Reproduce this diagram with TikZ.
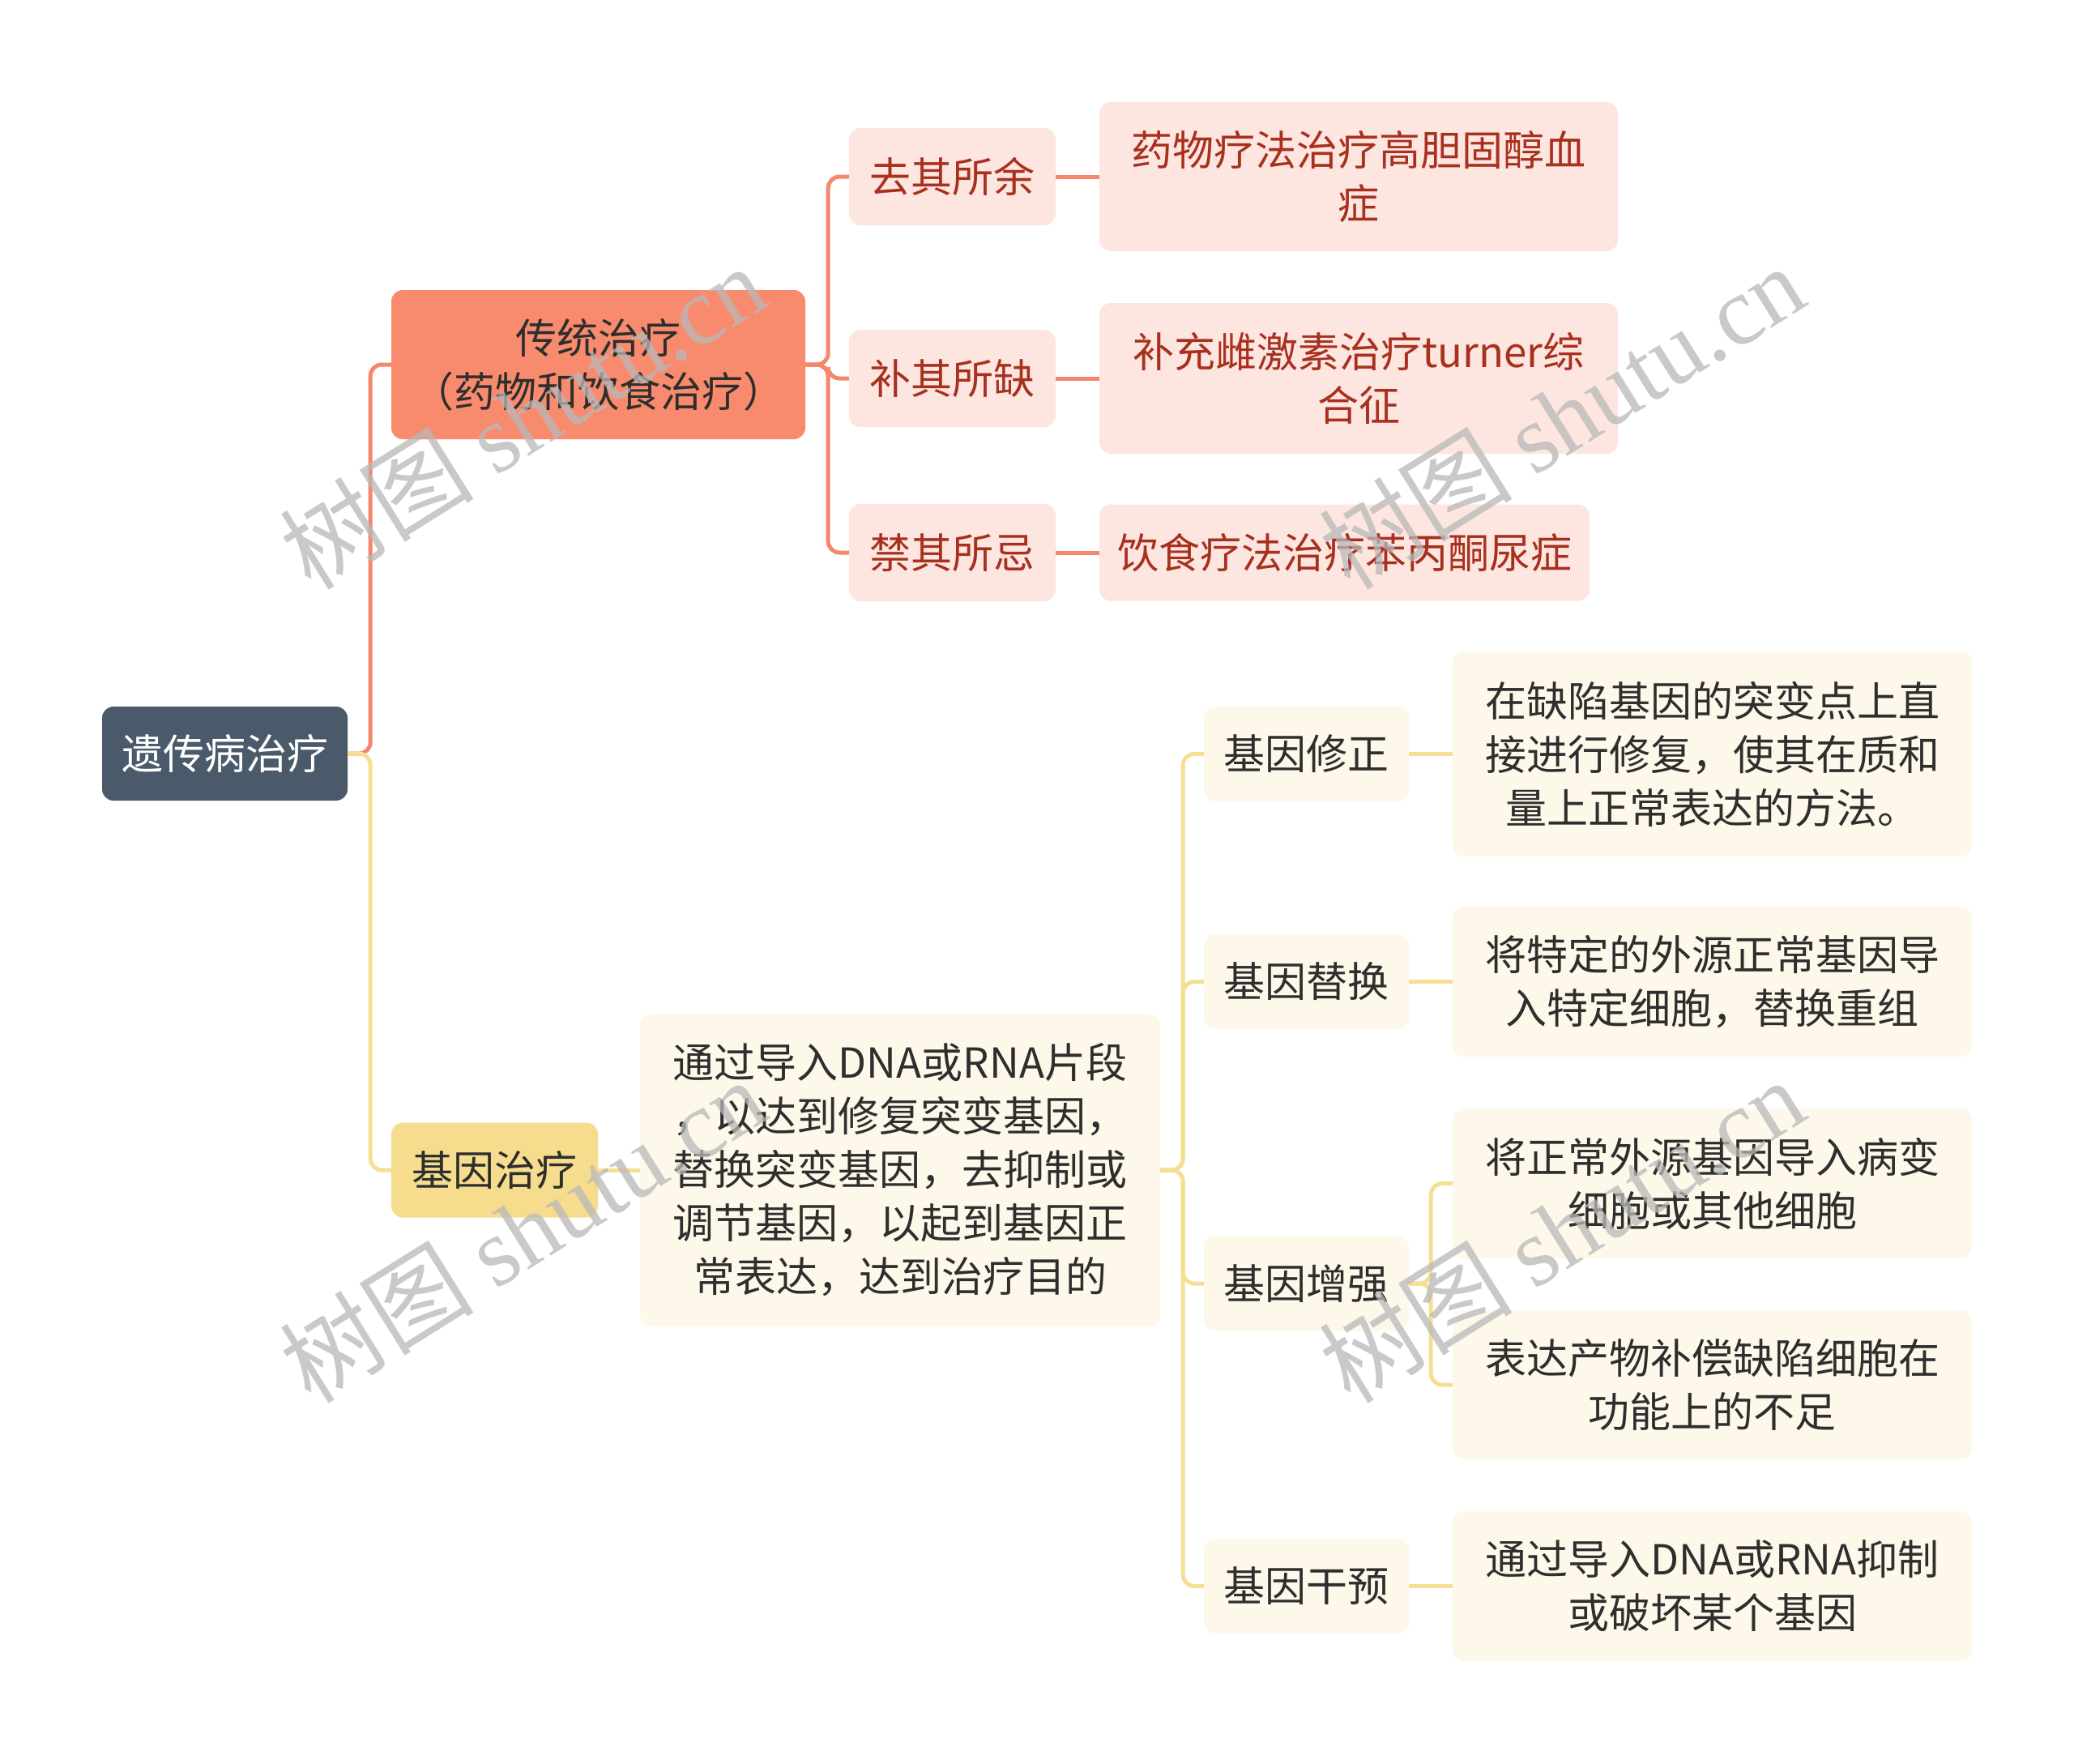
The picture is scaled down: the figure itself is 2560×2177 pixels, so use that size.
\documentclass[tikz,border=0pt]{standalone}
\usepackage{fontspec}
\setmainfont{Noto Sans CJK SC}
\newfontfamily\wmfont{Liberation Serif}
\definecolor{rootfill}{HTML}{4A5A6A}
\definecolor{salmonfill}{HTML}{F88B6D}
\definecolor{salmonline}{HTML}{F4876C}
\definecolor{pinkfill}{HTML}{FDE5E0}
\definecolor{darkred}{HTML}{A8301E}
\definecolor{yellowfill}{HTML}{F6DD8E}
\definecolor{yellowline}{HTML}{F5DF92}
\definecolor{creamfill}{HTML}{FDF8E9}
\definecolor{txt}{HTML}{2E2E2E}
\definecolor{wmgray}{HTML}{B8B8B8}
\begin{document}
\begin{tikzpicture}[x=1pt,y=-1pt,
  box/.style={rectangle, rounded corners=14pt, inner sep=0pt, align=center,
    font=\fontsize{51}{66}\selectfont},
  rootbox/.style={box, fill=rootfill, text=white},
  mainsalmon/.style={box, fill=salmonfill, text=txt},
  pinkbox/.style={box, fill=pinkfill, text=darkred},
  mainyellow/.style={box, fill=yellowfill, text=txt},
  creambox/.style={box, fill=creamfill, text=txt},
  sline/.style={draw=salmonline, line width=5pt, rounded corners=14pt},
  yline/.style={draw=yellowline, line width=5pt, rounded corners=14pt},
  wm/.style={text=wmgray, opacity=0.75, font=\fontsize{120}{128}\selectfont, inner sep=0pt}
]
\useasboundingbox (0,0) rectangle (2560,2177);
\fill[white] (0,0) rectangle (2560,2177);

% nodes
\node[rootbox, minimum width=303pt, minimum height=116pt] (root) at (277.5,930) {遗传病治疗};
\node[mainsalmon, minimum width=511pt, minimum height=184pt] (t1) at (738.5,450) {传统治疗\\（药物和饮食治疗）};
\node[pinkbox, minimum width=255pt, minimum height=120pt] (s1) at (1175.5,218) {去其所余};
\node[pinkbox, minimum width=255pt, minimum height=120pt] (s2) at (1175.5,467) {补其所缺};
\node[pinkbox, minimum width=255pt, minimum height=120pt] (s3) at (1175.5,682) {禁其所忌};
\node[pinkbox, minimum width=640pt, minimum height=184pt] (p1) at (1677,218) {药物疗法治疗高胆固醇血\\症};
\node[pinkbox, minimum width=640pt, minimum height=186pt] (p2) at (1677,467) {补充雌激素治疗turner综\\合征};
\node[pinkbox, minimum width=605pt, minimum height=119pt] (p3) at (1659.5,682) {饮食疗法治疗苯丙酮尿症};

\node[mainyellow, minimum width=255pt, minimum height=117pt] (gene) at (610.5,1444) {基因治疗};
\node[creambox, minimum width=642pt, minimum height=386pt] (para) at (1111,1444) {通过导入DNA或RNA片段\\，以达到修复突变基因，\\替换突变基因，去抑制或\\调节基因，以起到基因正\\常表达，达到治疗目的};
\node[creambox, minimum width=253pt, minimum height=117pt] (g1) at (1612.5,930.5) {基因修正};
\node[creambox, minimum width=253pt, minimum height=117pt] (g2) at (1612.5,1211.5) {基因替换};
\node[creambox, minimum width=253pt, minimum height=117pt] (g3) at (1612.5,1584) {基因增强};
\node[creambox, minimum width=253pt, minimum height=117pt] (g4) at (1612.5,1957.5) {基因干预};
\node[creambox, minimum width=641pt, minimum height=253pt] (q1) at (2113.5,930.5) {在缺陷基因的突变点上直\\接进行修复，使其在质和\\量上正常表达的方法。};
\node[creambox, minimum width=641pt, minimum height=185pt] (q2) at (2113.5,1211.5) {将特定的外源正常基因导\\入特定细胞，替换重组};
\node[creambox, minimum width=641pt, minimum height=185pt] (q3) at (2113.5,1460.5) {将正常外源基因导入病变\\细胞或其他细胞};
\node[creambox, minimum width=641pt, minimum height=184pt] (q4) at (2113.5,1709) {表达产物补偿缺陷细胞在\\功能上的不足};
\node[creambox, minimum width=641pt, minimum height=185pt] (q5) at (2113.5,1957.5) {通过导入DNA或RNA抑制\\或破坏某个基因};

% connectors
\draw[sline] (root.east) -- ++(28,0) |- (t1.west);
\draw[yline] (root.east) -- ++(28,0) |- (gene.west);
\draw[sline] (t1.east) -- ++(28,0) |- (s1.west);
\draw[sline] (t1.east) -- ++(28,0) |- (s2.west);
\draw[sline] (t1.east) -- ++(28,0) |- (s3.west);
\draw[sline] (s1.east) -- (p1.west);
\draw[sline] (s2.east) -- (p2.west);
\draw[sline] (s3.east) -- (p3.west);
\draw[yline] (gene.east) -- (para.west);
\draw[yline] (para.east) -- ++(28,0) |- (g1.west);
\draw[yline] (para.east) -- ++(28,0) |- (g2.west);
\draw[yline] (para.east) -- ++(28,0) |- (g3.west);
\draw[yline] (para.east) -- ++(28,0) |- (g4.west);
\draw[yline] (g1.east) -- (q1.west);
\draw[yline] (g2.east) -- (q2.west);
\draw[yline] (g3.east) -- ++(27,0) |- (q3.west);
\draw[yline] (g3.east) -- ++(27,0) |- (q4.west);
\draw[yline] (g4.east) -- (q5.west);

% watermarks
\node[wm, rotate=32] (wm1) at (645,514) {树图 {\wmfont shutu.cn}};
\node[wm, rotate=32] (wm2) at (1927,514) {树图 {\wmfont shutu.cn}};
\node[wm, rotate=32] (wm3) at (645,1518) {树图 {\wmfont shutu.cn}};
\node[wm, rotate=32] (wm4) at (1927,1518) {树图 {\wmfont shutu.cn}};
\end{tikzpicture}
\end{document}
